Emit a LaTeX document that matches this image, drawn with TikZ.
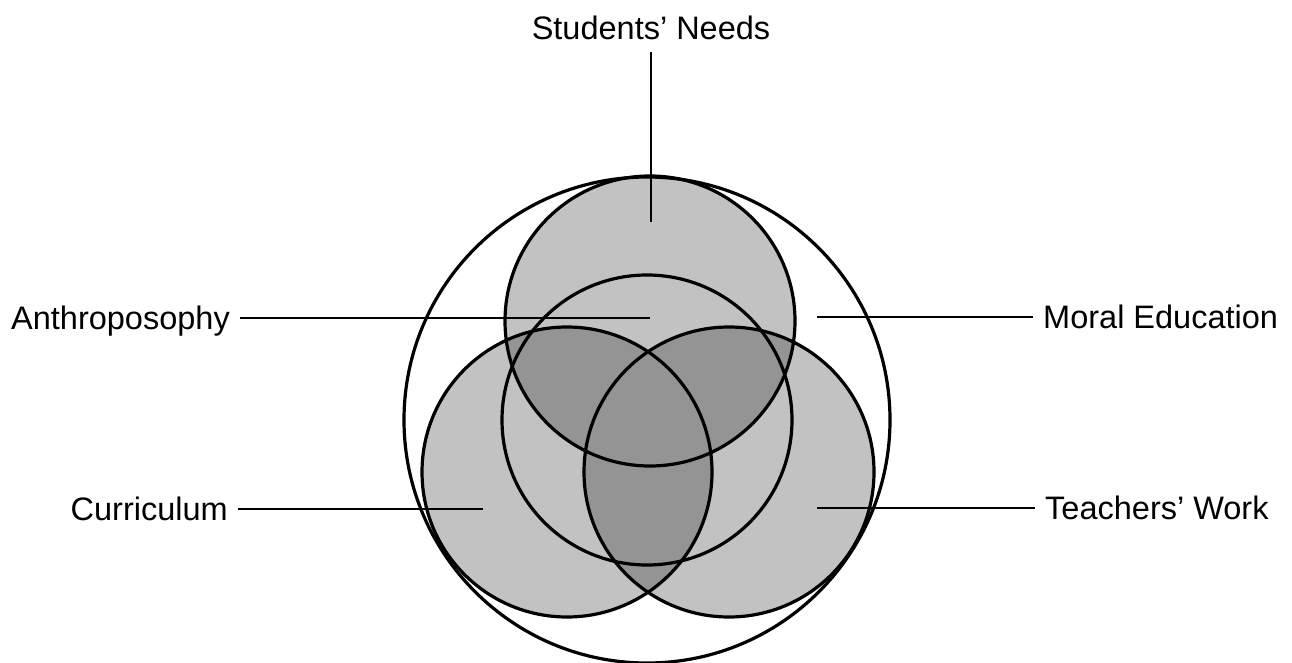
\documentclass[tikz,border=0pt]{standalone}
\usepackage{fontspec}
\setmainfont{Liberation Sans}
\begin{document}
\begin{tikzpicture}[x=1pt,y=-1pt,
  lab/.style={font=\fontsize{32.5}{36}\selectfont, inner sep=0pt, text height=23.3pt, text depth=0pt},
  ring/.style={line width=3.2pt},
  leader/.style={line width=2.6pt}]
\useasboundingbox (0,0) rectangle (1292,663);
\colorlet{lightsh}{black!24}
\colorlet{darksh}{black!42}
% circle centres
\coordinate (cO) at (647,420);
\coordinate (cT) at (650,321);
\coordinate (cM) at (647,420);
\coordinate (cL) at (567,472);
\coordinate (cR) at (729,472);
% single shading
\fill[lightsh] (cT) circle[radius=145pt];
\fill[lightsh] (cL) circle[radius=145pt];
\fill[lightsh] (cR) circle[radius=145pt];
% overlaps
\begin{scope}
  \clip (cT) circle[radius=145pt];
  \fill[darksh] (cL) circle[radius=145pt];
  \fill[darksh] (cR) circle[radius=145pt];
\end{scope}
\begin{scope}
  \clip (cL) circle[radius=145pt];
  \fill[darksh] (cR) circle[radius=145pt];
\end{scope}
% outlines
\draw[ring] (cO) circle[radius=243pt];
\draw[ring] (cT) circle[radius=145pt];
\draw[ring] (cM) circle[radius=145pt];
\draw[ring] (cL) circle[radius=145pt];
\draw[ring] (cR) circle[radius=145pt];
% labels
\node[lab] (sn) at (651,28) {Students' Needs};
\node[lab,anchor=east] (an) at (230,318) {Anthroposophy};
\node[lab,anchor=west] (me) at (1043,317) {Moral Education};
\node[lab,anchor=east] (cu) at (228,509) {Curriculum};
\node[lab,anchor=west] (tw) at (1045,508) {Teachers' Work};
% leader ends
\coordinate (snE) at (651,222);
\coordinate (anE) at (650,318);
\coordinate (meE) at (817,317);
\coordinate (cuE) at (483,509);
\coordinate (twE) at (817,508);
\draw[leader] ([yshift=-12pt]sn.south) -- (snE);
\draw[leader] ([xshift=10pt]an.east) -- (anE);
\draw[leader] (meE) -- ([xshift=-10pt]me.west);
\draw[leader] ([xshift=10pt]cu.east) -- (cuE);
\draw[leader] (twE) -- ([xshift=-10pt]tw.west);
\end{tikzpicture}
\end{document}
